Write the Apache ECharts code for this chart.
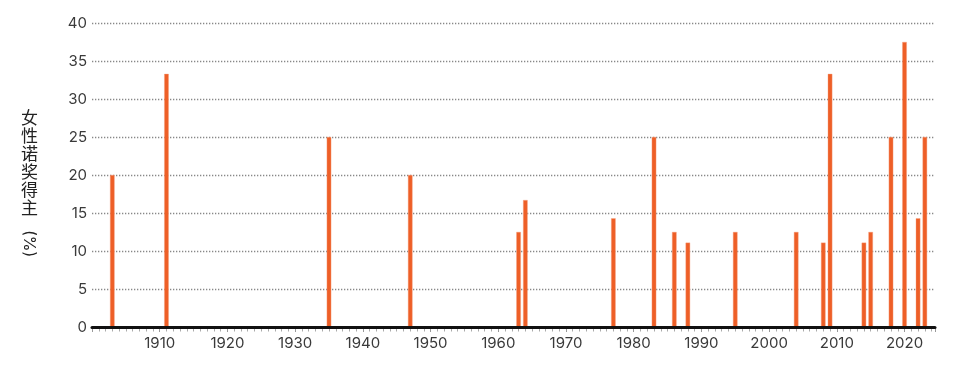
<!DOCTYPE html>
<html>
<head>
<meta charset="utf-8">
<script src="https://cdn.jsdelivr.net/npm/echarts@6/dist/echarts.min.js"></script>
<style>
html,body{margin:0;padding:0;background:#fff;}
#chart{width:960px;height:366px;}
</style>
</head>
<body>
<div id="chart"></div>
<script>
const years = [1903, 1911, 1935, 1947, 1963, 1964, 1977, 1983, 1986, 1988, 1995, 2004, 2008, 2009, 2014, 2015, 2018, 2020, 2022, 2023];
const shares = [20, 33.3, 25, 20, 12.5, 16.7, 14.3, 25, 12.5, 11.1, 12.5, 12.5, 11.1, 33.3, 11.1, 12.5, 25, 37.5, 14.3, 25];
const yTicks = [0, 5, 10, 15, 20, 25, 30, 35, 40];
const nameChars = ['女', '性', '诺', '奖', '得', '主'];
const nameUnit = '(%)';

const font = 'Inter, "Noto Sans", "Noto Sans CJK SC", sans-serif';
const chart = echarts.init(document.getElementById('chart'));

const graphics = nameChars.map((c, i) => ({
  type: 'text',
  left: 21,
  top: 109 + i * 18,
  style: { text: c, font: '17px "Noto Sans CJK SC", sans-serif', fill: '#222' }
}));
graphics.push({
  type: 'text',
  x: 29,
  y: 230,
  rotation: -Math.PI / 2,
  style: { text: nameUnit, font: '16px ' + font, fill: '#222', align: 'left', verticalAlign: 'middle' }
});

const xRange = { type: 'value', min: 1900, max: 2024.5, interval: 10 };

chart.setOption({
  animation: false,
  grid: { left: 92, right: 25, top: 23, bottom: 39 },
  xAxis: [Object.assign({}, xRange, {
    z: 2,
    axisLine: { show: false, onZero: false },
    axisTick: { show: true, length: 5, lineStyle: { color: '#999', width: 1 } },
    minorTick: { show: true, splitNumber: 10, length: 4.5, lineStyle: { color: '#aaa', width: 1 } },
    splitLine: { show: false },
    axisLabel: {
      show: true,
      margin: 9,
      fontSize: 15,
      fontFamily: font,
      color: '#3a3a3a',
      showMinLabel: false,
      showMaxLabel: false,
      formatter: v => (v % 10 === 0 && v > 1900) ? String(v) : ''
    }
  }), Object.assign({}, xRange, {
    z: 5,
    position: 'bottom',
    offset: 0,
    axisLine: { show: true, onZero: false, lineStyle: { color: '#111', width: 3 } },
    axisTick: { show: false },
    minorTick: { show: false },
    splitLine: { show: false },
    axisLabel: { show: false }
  })],
  yAxis: {
    type: 'value',
    min: 0,
    max: 40,
    interval: 5,
    axisLine: { show: false },
    axisTick: { show: false },
    splitLine: { show: true, lineStyle: { color: '#888', width: 1.3, type: [1.3, 1.7] } },
    axisLabel: {
      margin: 5,
      fontSize: 15,
      fontFamily: font,
      color: '#3a3a3a',
      formatter: v => yTicks.includes(v) ? String(v) : ''
    }
  },
  series: [{
    type: 'bar',
    xAxisIndex: 0,
    data: years.map((y, i) => [y, shares[i]]),
    barWidth: 4.5,
    itemStyle: { color: '#EE5F27', borderColor: '#F5A07E', borderWidth: 0.4 },
    z: 1
  }],
  graphic: graphics
});
</script>
</body>
</html>
